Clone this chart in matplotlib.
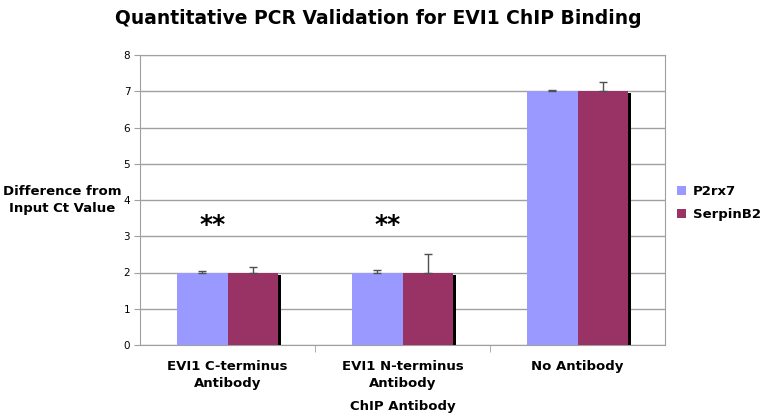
import matplotlib.pyplot as plt
import numpy as np

categories = ['EVI1 C-terminus\nAntibody', 'EVI1 N-terminus\nAntibody', 'No Antibody']
p2rx7 = [2.0, 2.0, 7.0]
p2rx7_err = [0.05, 0.06, 0.03]
serpinb2 = [2.0, 2.0, 7.0]
serpinb2_err = [0.14, 0.5, 0.25]
stars = ['**', '**', '']

plt.rcParams['font.family'] = 'DejaVu Sans'

fig = plt.figure(figsize=(7.65, 4.2), dpi=100)
ax = fig.add_axes([140/765, 75/420, 525/765, 290/420])

x = np.arange(len(categories))
w = 0.287
gray = '#a0a0a0'

# shadow behind bars
ax.bar(x + w/2 + 0.016, serpinb2, w, bottom=-0.06, color='black', zorder=2)
ax.bar(x - w/2, p2rx7, w, color='#9999ff', zorder=3, label='P2rx7')
ax.bar(x + w/2, serpinb2, w, color='#993366', zorder=3, label='SerpinB2')
ax.errorbar(x - w/2, p2rx7, yerr=[np.zeros(3), p2rx7_err], fmt='none',
            ecolor='#505050', elinewidth=1, capsize=3, capthick=1, zorder=4)
ax.errorbar(x + w/2, serpinb2, yerr=[np.zeros(3), serpinb2_err], fmt='none',
            ecolor='#505050', elinewidth=1, capsize=3, capthick=1, zorder=4)

for i, s in enumerate(stars):
    if s:
        ax.text(x[i] - 0.085, 3.3, s, ha='center', va='center', fontsize=18,
                fontweight='bold')

ax.set_xlim(-0.5, 2.5)
ax.set_ylim(0, 8)
ax.set_yticks(range(0, 9))
ax.tick_params(axis='y', labelsize=7.5, length=4, color=gray, pad=3)
ax.set_xticks(x)
ax.set_xticklabels(categories, fontsize=9.5, fontweight='bold', linespacing=1.4)
ax.tick_params(axis='x', length=0, pad=11)
ax.set_xticks([0.5, 1.5], minor=True)
ax.tick_params(axis='x', which='minor', length=5, color=gray)
ax.grid(axis='y', color=gray, linewidth=1, zorder=0)
ax.set_axisbelow(True)
for sp in ax.spines.values():
    sp.set_color(gray)

ax.set_xlabel('ChIP Antibody', fontsize=9.5, fontweight='bold', labelpad=7)
fig.text(62/765, 1 - 200/420, 'Difference from\nInput Ct Value', ha='center',
         va='center', fontsize=9.5, fontweight='bold', linespacing=1.35)
fig.suptitle('Quantitative PCR Validation for EVI1 ChIP Binding', x=378/765,
             y=1 - 18/420, va='center', fontsize=13.5, fontweight='bold')

ax.legend(loc='center left', bbox_to_anchor=(1.0, 0.49), frameon=False,
          prop={'weight': 'bold', 'size': 9.5}, handlelength=0.7,
          handleheight=0.7, handletextpad=0.5, labelspacing=0.75)

fig.savefig('out.png', dpi=100)
